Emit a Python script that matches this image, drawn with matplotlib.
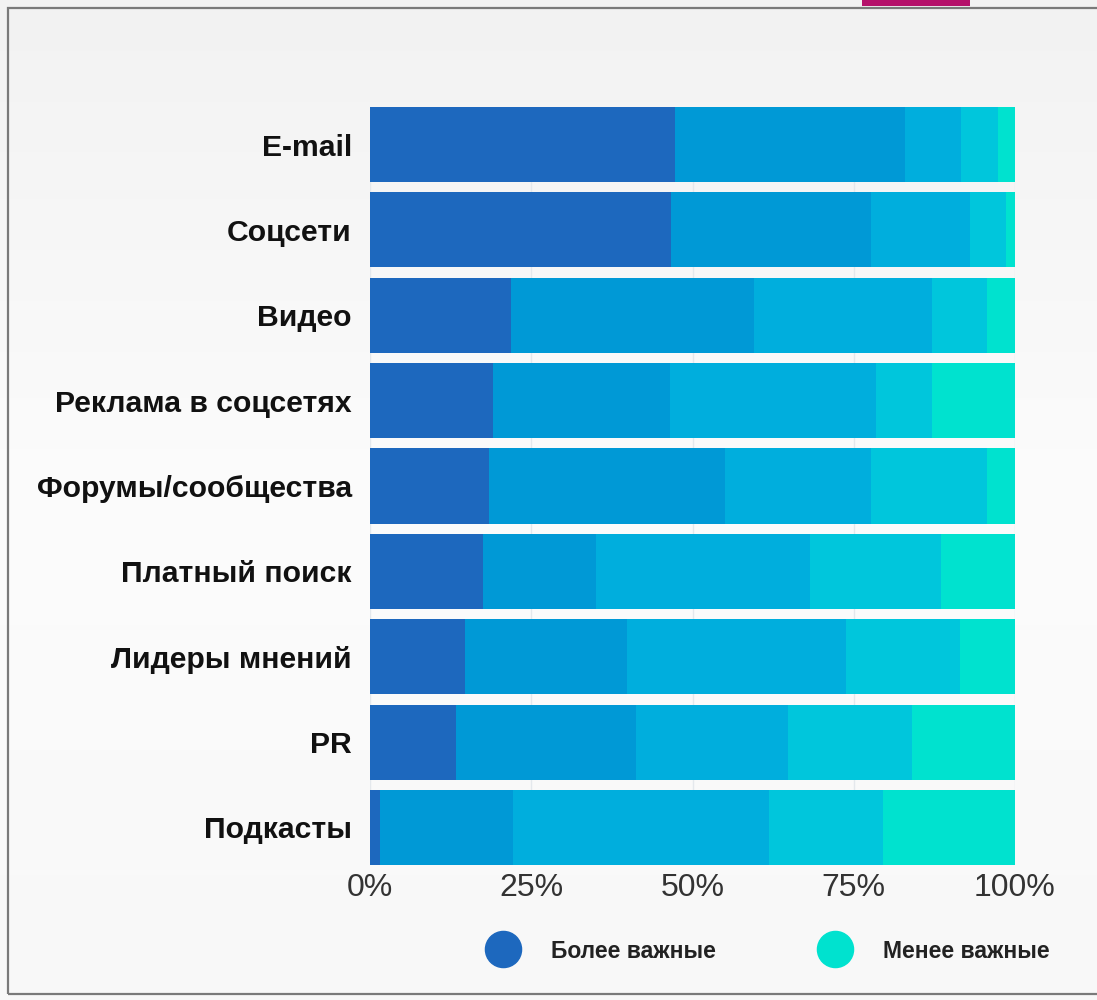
import numpy as np
import matplotlib.pyplot as plt
from matplotlib.patches import Rectangle
from matplotlib.lines import Line2D

# данные (доли в %)
categories = ['E-mail', 'Соцсети', 'Видео', 'Реклама в соцсетях', 'Форумы/сообщества',
              'Платный поиск', 'Лидеры мнений', 'PR', 'Подкасты']
s1 = [47.3, 46.7, 21.8, 19.0, 18.4, 17.5, 14.8, 13.3, 1.5]
s2 = [35.7, 30.9, 37.7, 27.5, 36.7, 17.5, 25.1, 27.9, 20.7]
s3 = [8.6, 15.5, 27.6, 32.0, 22.5, 33.2, 33.9, 23.6, 39.6]
s4 = [5.7, 5.5, 8.6, 8.6, 18.1, 20.3, 17.6, 19.2, 17.7]
s5 = [2.7, 1.4, 4.3, 12.9, 4.3, 11.5, 8.6, 16.0, 20.5]
xticks = [0, 25, 50, 75, 100]
xlabels = ['0%', '25%', '50%', '75%', '100%']
legend_labels = ['Более важные', 'Менее важные']

colors = ['#1d68be', '#0099d6', '#00aedd', '#00c6dc', '#00e2cf']

plt.rcParams['font.family'] = ['Liberation Sans', 'DejaVu Sans']

fig = plt.figure(figsize=(10.97, 10), dpi=100)
fig.patch.set_facecolor('white')

# фон карточки
bg = fig.add_axes([0, 0, 1, 1], zorder=-5)
grad = np.linspace(0, 1, 256).reshape(-1, 1)
bg.imshow(grad, cmap=plt.matplotlib.colors.LinearSegmentedColormap.from_list(
    'g', ['#f2f2f2', '#fcfcfc', '#f8f8f8']), aspect='auto', extent=(0, 1, 0, 1))
bg.set_xlim(0, 1)
bg.set_ylim(0, 1)
bg.axis('off')
fig.patches.append(Rectangle((0.007, 0.006), 0.995, 0.986, transform=fig.transFigure,
                             facecolor='none', edgecolor='#7a7a7a', lw=1.6, zorder=-4))
fig.patches.append(Rectangle((862 / 1097, 0.994), 108 / 1097, 0.006, transform=fig.transFigure,
                             facecolor='#b5126b', edgecolor='none'))

ax = fig.add_axes([370 / 1097, 0.135, 645 / 1097, 0.758])
ax.set_facecolor('none')
y = np.arange(len(categories))
left = np.zeros(len(categories))
for vals, c in zip([s1, s2, s3, s4, s5], colors):
    ax.barh(y, vals, left=left, height=0.88, color=c, edgecolor='none', zorder=2)
    left += np.array(vals)

ax.set_xlim(0, 100)
ax.set_ylim(8.44, -0.44)
ax.set_yticks(y, categories)
ax.set_xticks(xticks, xlabels)
for t in ax.get_yticklabels():
    t.set_fontweight('bold')
    t.set_fontsize(21.7)
    t.set_color('#111111')
for t in ax.get_xticklabels():
    t.set_fontsize(23)
    t.set_color('#333333')
ax.tick_params(axis='y', length=0, pad=13)
ax.tick_params(axis='x', length=0, pad=6)
for sp in ax.spines.values():
    sp.set_visible(False)
ax.set_axisbelow(True)
ax.xaxis.grid(True, color='#e4e8ec', lw=1)

handles = [Line2D([], [], marker='o', ls='none', markersize=26, color=colors[0]),
           Line2D([], [], marker='o', ls='none', markersize=26, color=colors[4])]
fig.legend(handles, legend_labels, loc='center', bbox_to_anchor=(0.699, 0.049), ncol=2,
           frameon=False, prop={'weight': 'bold', 'size': 16.5}, labelcolor='#222222',
           handlelength=1.6, handletextpad=1.3, columnspacing=4.4)

fig.savefig('out.png', dpi=100)
